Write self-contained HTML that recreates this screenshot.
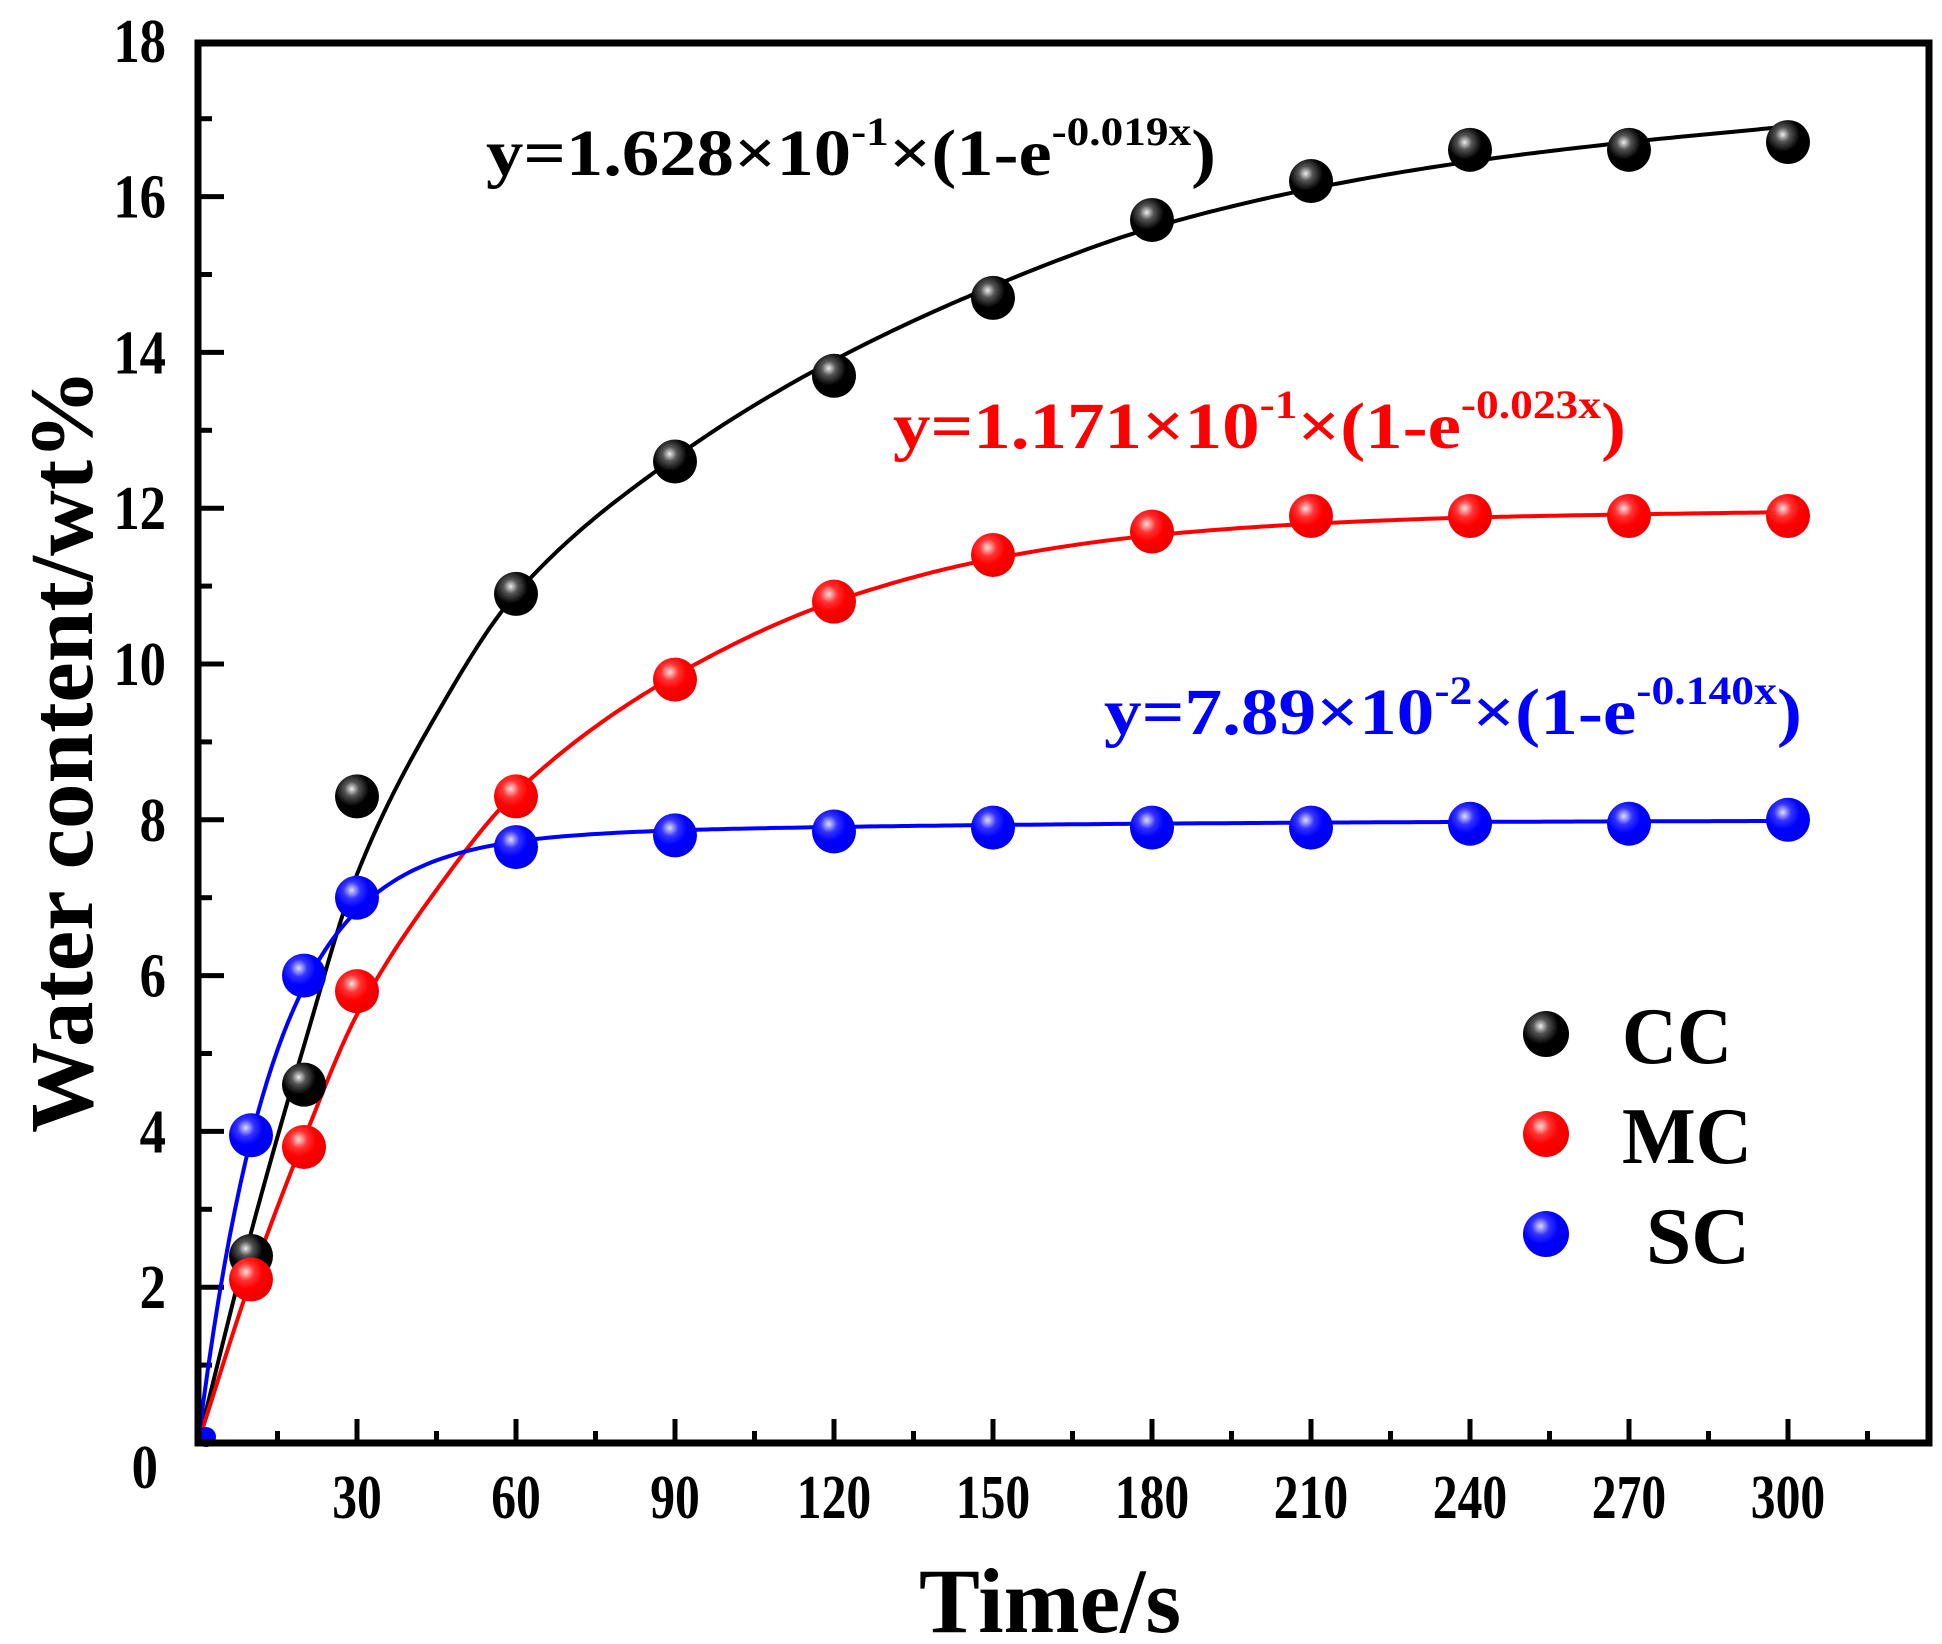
<!DOCTYPE html>
<html><head><meta charset="utf-8"><style>
html,body{margin:0;padding:0;background:#fff;}
svg{display:block;}
text{font-family:"Liberation Serif",serif;font-weight:bold;}
</style></head><body>
<svg id="s" width="1942" height="1644" viewBox="0 0 1942 1644" xmlns="http://www.w3.org/2000/svg">
<defs>
<radialGradient id="gk" cx="0.38" cy="0.33" r="0.65"><stop offset="0" stop-color="#eee"/><stop offset="0.25" stop-color="#555"/><stop offset="0.6" stop-color="#000"/><stop offset="1" stop-color="#000"/></radialGradient>
<radialGradient id="gr" cx="0.38" cy="0.33" r="0.65"><stop offset="0" stop-color="#fdd"/><stop offset="0.3" stop-color="#f33"/><stop offset="0.6" stop-color="#f00"/><stop offset="1" stop-color="#e00"/></radialGradient>
<radialGradient id="gb" cx="0.38" cy="0.33" r="0.65"><stop offset="0" stop-color="#ddf"/><stop offset="0.3" stop-color="#33f"/><stop offset="0.6" stop-color="#00f"/><stop offset="1" stop-color="#00e"/></radialGradient>
</defs>
<g id="g"></g>
<text x="486" y="175" font-size="66" textLength="730" lengthAdjust="spacingAndGlyphs">y=1.628×10<tspan dy="-30" font-size="40">-1</tspan><tspan dy="30">×(1-e</tspan><tspan dy="-30" font-size="40">-0.019x</tspan><tspan dy="30">)</tspan></text>
<text x="893" y="448" font-size="66" fill="#f00" textLength="733" lengthAdjust="spacingAndGlyphs">y=1.171×10<tspan dy="-30" font-size="40">-1</tspan><tspan dy="30">×(1-e</tspan><tspan dy="-30" font-size="40">-0.023x</tspan><tspan dy="30">)</tspan></text>
<text x="1104" y="734" font-size="66" fill="#00f" textLength="698" lengthAdjust="spacingAndGlyphs">y=7.89×10<tspan dy="-30" font-size="40">-2</tspan><tspan dy="30">×(1-e</tspan><tspan dy="-30" font-size="40">-0.140x</tspan><tspan dy="30">)</tspan></text>
<circle cx="1546" cy="1034" r="23" fill="url(#gk)"/>
<circle cx="1546" cy="1134" r="23" fill="url(#gr)"/>
<circle cx="1546" cy="1234" r="23" fill="url(#gb)"/>
<text x="1622" y="1063" font-size="80" textLength="110" lengthAdjust="spacingAndGlyphs">CC</text>
<text x="1622" y="1163" font-size="80" textLength="130" lengthAdjust="spacingAndGlyphs">MC</text>
<text x="1646" y="1263" font-size="80" textLength="104" lengthAdjust="spacingAndGlyphs">SC</text>
<text transform="translate(92,751) rotate(-90)" text-anchor="middle" font-size="90" textLength="764" lengthAdjust="spacingAndGlyphs">Water content/wt%</text>
<text x="1050" y="1632" text-anchor="middle" font-size="92" textLength="262" lengthAdjust="spacingAndGlyphs">Time/s</text>
</svg>
<script>
var X0=198,XS=5.3,Y0=1443,YS=77.9;
function px(x){return X0+x*XS} function py(y){return Y0-y*YS}
var g=document.getElementById('g'),h='';
for(var t=15;t<=315;t+=15){var maj=t%30==0;h+='<line x1="'+px(t)+'" y1="'+Y0+'" x2="'+px(t)+'" y2="'+(Y0-(maj?24:12))+'" stroke="#000" stroke-width="5"/>';
 if(maj&&t<=300)h+='<text x="'+px(t)+'" y="1518" text-anchor="middle" font-size="62" transform="translate('+px(t)+',0) scale(0.8,1) translate('+(-px(t))+',0)">'+t+'</text>';}
for(var v=1;v<18;v++){var maj=v%2==0;h+='<line x1="'+X0+'" y1="'+py(v)+'" x2="'+(X0+(maj?26:14))+'" y2="'+py(v)+'" stroke="#000" stroke-width="5"/>';
 if(maj)h+='<text x="166" y="'+(py(v)+21)+'" text-anchor="end" font-size="62" transform="translate(166,0) scale(0.85,1) translate(-166,0)">'+v+'</text>';}
h+='<text x="166" y="62" text-anchor="end" font-size="62" transform="translate(166,0) scale(0.85,1) translate(-166,0)">18</text>';
h+='<text x="158" y="1488" text-anchor="end" font-size="62" transform="translate(158,0) scale(0.85,1) translate(-158,0)">0</text>';
function mono(P){var n=P.length,d=[],m=[];for(var i=0;i<n-1;i++)d.push((P[i+1][1]-P[i][1])/(P[i+1][0]-P[i][0]));
 m[0]=d[0];m[n-1]=d[n-2];for(var i=1;i<n-1;i++){if(d[i-1]*d[i]<=0)m[i]=0;else{var w1=2*(P[i+1][0]-P[i][0])+(P[i][0]-P[i-1][0]),w2=(P[i+1][0]-P[i][0])+2*(P[i][0]-P[i-1][0]);m[i]=(w1+w2)/(w1/d[i-1]+w2/d[i]);}}
 return function(x){var i=0;while(i<n-2&&x>P[i+1][0])i++;var h=P[i+1][0]-P[i][0],t=(x-P[i][0])/h,t2=t*t,t3=t2*t;
 return (2*t3-3*t2+1)*P[i][1]+(t3-2*t2+t)*h*m[i]+(-2*t3+3*t2)*P[i+1][1]+(t3-t2)*h*m[i+1];};}
function fcurve(f,col){var d='';for(var x=0;x<=300;x+=1){d+=(x?'L':'M')+px(x).toFixed(1)+','+py(f(x)).toFixed(1);}return '<path d="'+d+'" fill="none" stroke="'+col+'" stroke-width="4"/>';}
h+=fcurve(mono([[0,0],[10,2.7],[20,5.1],[30,7.3],[45,9.35],[60,10.9],[90,12.65],[120,13.9],[150,14.85],[180,15.6],[210,16.1],[240,16.45],[270,16.7],[300,16.9]]),'#000');
h+=fcurve(mono([[0,0],[10,2.1],[20,3.9],[30,5.5],[45,7.1],[60,8.35],[90,9.85],[120,10.8],[150,11.35],[180,11.65],[210,11.8],[240,11.88],[270,11.92],[300,11.95]]),'#f00');
h+=fcurve(function(x){return 7.7*(1-Math.exp(-0.07*x))+0.3*(1-Math.exp(-0.01*x));},'#00f');
var T=[10,20,30,60,90,120,150,180,210,240,270,300];
var CC=[2.4,4.6,8.3,10.9,12.6,13.7,14.7,15.7,16.2,16.6,16.6,16.7];
var MC=[2.1,3.8,5.8,8.3,9.8,10.8,11.4,11.7,11.9,11.9,11.9,11.9];
var SC=[3.95,6.0,7.0,7.65,7.8,7.85,7.9,7.9,7.9,7.95,7.95,8.0];
function pts(a,f){for(var i=0;i<T.length;i++)h+='<circle cx="'+px(T[i])+'" cy="'+py(a[i])+'" r="22" fill="url(#'+f+')"/>';}
pts(CC,'gk');pts(MC,'gr');pts(SC,'gb');
h+='<circle cx="'+(X0+8)+'" cy="'+(Y0-6)+'" r="10" fill="#00f"/>';
h+='<rect x="198" y="43" width="1731" height="1400" fill="none" stroke="#000" stroke-width="7"/>';
g.innerHTML=h;
</script>
</body></html>
